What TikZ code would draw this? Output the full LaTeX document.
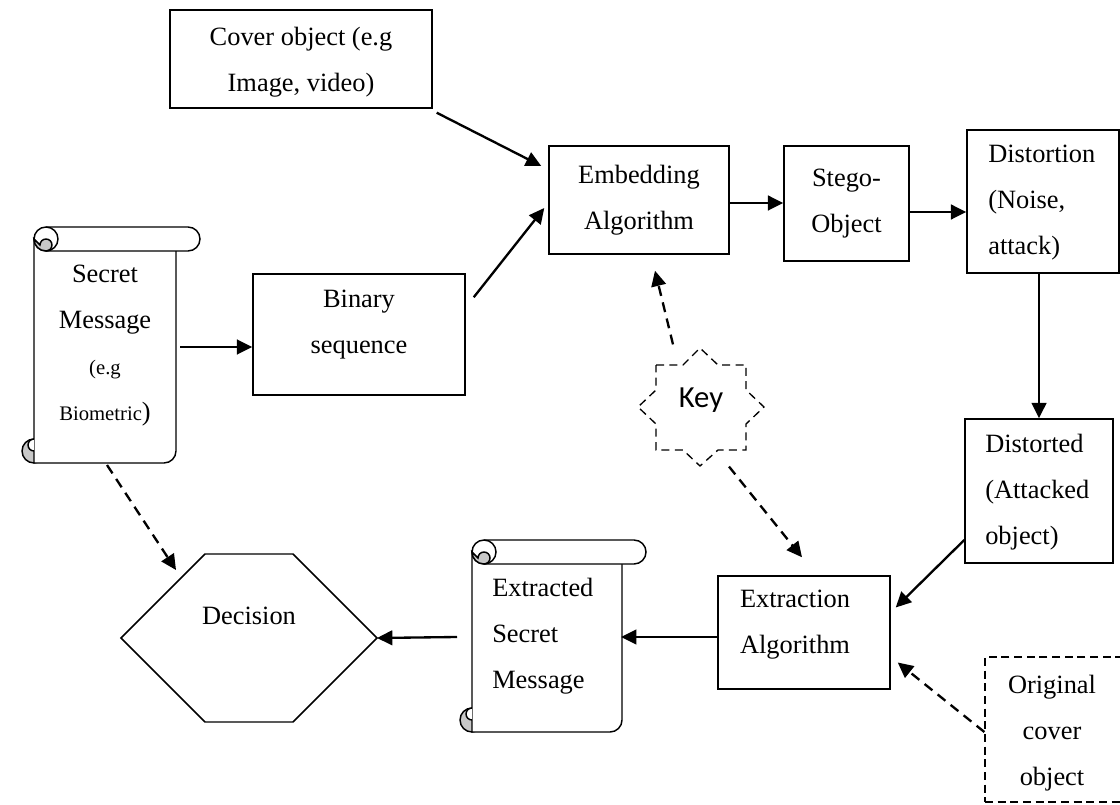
\documentclass[tikz,border=0pt]{standalone}
\usepackage{fontspec}
\setmainfont{Liberation Serif}
\newfontfamily\keyfont{Carlito}
\usetikzlibrary{arrows.meta,calc,fit}

\definecolor{curl}{RGB}{200,200,200}

\tikzset{
  box/.style={draw, line width=1.1pt, inner sep=0pt, fill=white},
  dbox/.style={draw, line width=0.9pt, dash pattern=on 6pt off 3.5pt, inner sep=0pt},
  scrl/.style={draw, line width=1.1pt},
  txt/.style={font=\fontsize{19.8pt}{34.5pt}\selectfont, inner sep=0pt, align=center},
  arr/.style={line width=1.75pt, -{Triangle[length=11.5pt,width=11pt]}},
  darr/.style={arr, dash pattern=on 7.5pt off 5pt},
}
\newcommand\smalltext{\fontsize{15.5pt}{34.5pt}\selectfont}

% vertical scroll: left, top, right, bottom, curl radius
\newcommand\drawvscroll[5]{%
  \pgfmathsetmacro\sL{#1}\pgfmathsetmacro\sT{#2}%
  \pgfmathsetmacro\sR{#3}\pgfmathsetmacro\sB{#4}\pgfmathsetmacro\sC{#5}%
  % bottom curl
  \filldraw[scrl, fill=curl] (\sL+\sC,\sB-\sC) circle[radius=\sC];
  % sheet
  \filldraw[scrl, fill=white] (\sL+\sC,\sT+\sC) -- (\sL+\sC,\sB) -- (\sR-3*\sC,\sB)
    arc[start angle=90,end angle=0,radius=\sC] -- (\sR-2*\sC,\sT+\sC) -- cycle;
  \filldraw[scrl, fill=white] (\sL+\sC,\sB-2*\sC) arc[start angle=270,end angle=90,radius=\sC/2];
  % top roll
  \filldraw[scrl, fill=white] (\sL+2*\sC,\sT) -- (\sR-\sC,\sT)
    arc[start angle=-90,end angle=90,radius=\sC] -- (\sL+2*\sC,\sT+2*\sC)
    arc[start angle=90,end angle=270,radius=\sC] -- cycle;
  \filldraw[scrl, fill=curl] (\sL+\sC,\sT+\sC) arc[start angle=180,end angle=90,radius=\sC]
    arc[start angle=90,end angle=-180,radius=\sC/2] -- cycle;
  \draw[scrl] (\sL+2*\sC,\sT) arc[start angle=-90,end angle=90,radius=\sC];
}

\begin{document}
\begin{tikzpicture}[x=0.75pt,y=-0.75pt]
\useasboundingbox (0,0) rectangle (1120,805);
\clip (0,0) rectangle (1120,805);

% boxes
\node[box, fit={(170,10)(432,108)}] (cover) {};
\node[txt] (coverT) at (301,62) {Cover object (e.g\\Image, video)};

\node[box, fit={(549,146)(729,254)}] (emb) {};
\node[txt] (embT) at (emb) {Embedding\\Algorithm};

\node[box, fit={(784,146)(909,261)}] (stego) {};
\node[txt] (stegoT) at (stego) {Stego-\\Object};

\node[box, fit={(967,130)(1119,273)}] (dist) {};
\node[txt, align=left, anchor=west] (distT) at (988,203) {Distortion\\(Noise,\\attack)};

\node[box, fit={(965,419)(1113,563)}] (dstd) {};
\node[txt, align=left, anchor=west] (dstdT) at (985,492) {Distorted\\(Attacked\\object)};

\node[box, fit={(253,274)(465,395)}] (bin) {};
\node[txt] (binT) at (359,325) {Binary\\sequence};

\node[box, fit={(718,576)(890,689)}] (ext) {};
\node[txt] (extT) at (795,625) {Extraction\\Algorithm};

\node[dbox, fit={(985,657)(1140,802)}] (orig) {};
\node[txt] (origT) at (1052,733) {Original\\cover\\object};

% scrolls
\drawvscroll{22}{227}{200}{463}{12}
\coordinate (secE) at (180,347);
\node[txt] (secT) at (105,346) {Secret\\Message\\{\smalltext (e.g}\\{\smalltext Biometric})};

\drawvscroll{460}{540}{646}{732}{12}
\coordinate (xsecE) at (621,637);
\node[txt, align=left, anchor=west] (xsecT) at (492,636) {Extracted\\Secret\\Message};

% decision
\draw[line width=1.1pt] (121,638) coordinate (decW) -- (205,554) coordinate (decNW) -- (293,554)
  -- (377,638) coordinate (decE) -- (293,722) -- (205,722) -- cycle;
\node[txt] (dec) at (249,616) {Decision};

% key
\draw[line width=1pt, dash pattern=on 6pt off 4pt]
  (656,365) -- (683,365) -- (700,348) -- (718,365) -- (746,365) -- (746,390)
  -- (764,407) -- (746,424) -- (746,450) -- (718,450) -- (700,466) -- (683,450)
  -- (656,450) -- (656,424) -- (638,407) -- (656,390) -- cycle;
\node[inner sep=0pt, font=\keyfont\fontsize{23pt}{28pt}\selectfont] (key) at (701,400) {Key};

% connectors
\coordinate (stegoS) at (909,212);
\coordinate (xsecW) at (457,637);
\draw[arr] ($(cover.south east)+(4,4)$) -- ($(emb.west)+(-7,-34)$);
\draw[arr] ($(bin.north east)+(8,24)$) -- ($(emb.west)+(-4,8)$);
\draw[arr] (secE) -- (secE -| bin.west);
\draw[arr] (emb.east |- 0,203) -- (stego.west |- 0,203);
\draw[arr] (stegoS) -- (stegoS -| dist.west);
\draw[arr] (dstd.north |- dist.south) -- (dstd.north);
\draw[arr] ($(dstd.west)+(0,49)$) -- ($(ext.east)+(5,-25)$);
\draw[arr] (ext.west |- xsecE) -- (xsecE);
\draw[arr] (xsecW) -- (decE);
\draw[darr] ($(key.north)+(-28,-43)$) -- ($(emb.south)+(16,16)$);
\draw[darr] ($(key.south)+(28,54)$) -- ($(ext.north)+(-2,-18)$);
\draw[darr] ($(orig.west)+(0,2.5)$) -- ($(ext.east)+(7,30)$);
\draw[darr] (107,465) -- ($(decNW)+(-29,16)$);
\end{tikzpicture}
\end{document}
